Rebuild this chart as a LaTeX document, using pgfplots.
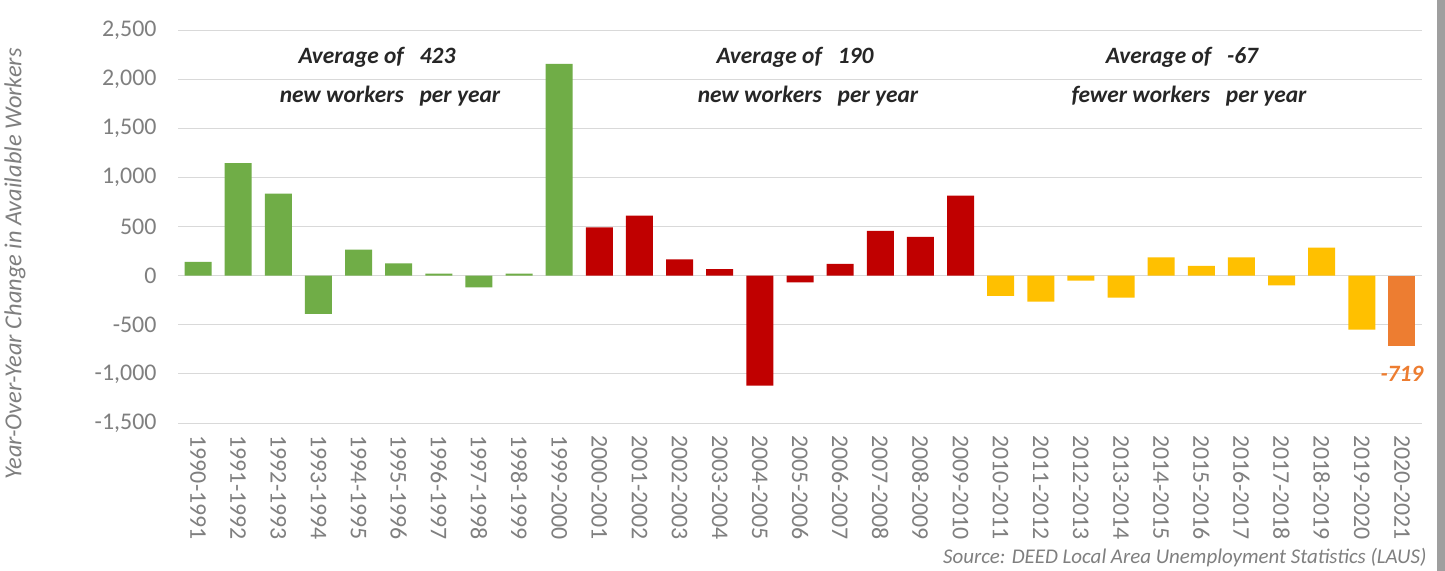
\documentclass[border=0pt]{standalone}
\usepackage{pgfplots}
\pgfplotsset{compat=1.18}
\usepackage{fontspec}
\setmainfont{Carlito}
\definecolor{cgreen}{HTML}{70AD47}
\definecolor{cred}{HTML}{C00000}
\definecolor{cyellow}{HTML}{FFC000}
\definecolor{corange}{HTML}{ED7D31}
\definecolor{tgray}{HTML}{7F7F7F}
\definecolor{ggray}{HTML}{D9D9D9}
\begin{document}
\begin{tikzpicture}[x=1bp,y=1bp]
\useasboundingbox (0,0) rectangle (1445,571);
\fill[white] (0,0) rectangle (1445,571);
\fill[gray!75] (1437,0) rectangle (1445,571);
\begin{axis}[
  at={(178bp,148bp)}, anchor=south west,
  scale only axis, width=1244bp, height=393bp,
  xmin=-0.5, xmax=30.5, ymin=-1500, ymax=2500,
  ytick={-1500,-1000,...,2500},
  ymajorgrids, major grid style={ggray, line width=0.8pt},
  axis line style={draw=none},
  major tick length=0pt,
  xtick={0,...,30},
  xticklabels={1990-1991,1991-1992,1992-1993,1993-1994,1994-1995,1995-1996,1996-1997,1997-1998,1998-1999,1999-2000,2000-2001,2001-2002,2002-2003,2003-2004,2004-2005,2005-2006,2006-2007,2007-2008,2008-2009,2009-2010,2010-2011,2011-2012,2012-2013,2013-2014,2014-2015,2015-2016,2016-2017,2017-2018,2018-2019,2019-2020,2020-2021},
  xticklabel shift=9bp,
  yticklabel shift=18bp,
  xticklabel style={rotate=-90, anchor=west, font=\fontsize{24}{28}\selectfont, text=tgray},
  yticklabel style={font=\fontsize{24}{28}\selectfont, text=tgray},
  /pgf/number format/assume math mode=true,
  /pgf/number format/.cd, 1000 sep={,},
  /pgfplots/.cd,
  ybar, bar width=27bp, bar shift=0pt,
  every axis plot/.append style={draw=none},
  clip=false,
]
\addplot[fill=cgreen] coordinates {(0,140) (1,1145) (2,835) (3,-390) (4,265) (5,125) (6,20) (7,-120) (8,20) (9,2155)};
\addplot[fill=cred] coordinates {(10,490) (11,610) (12,165) (13,65) (14,-1120) (15,-70) (16,120) (17,455) (18,395) (19,815)};
\addplot[fill=cyellow] coordinates {(20,-205) (21,-265) (22,-50) (23,-225) (24,185) (25,100) (26,185) (27,-100) (28,285) (29,-550)};
\addplot[fill=corange] coordinates {(30,-719)};
\node[text=corange, font=\fontsize{23.5}{26}\selectfont\bfseries\itshape] at (axis cs:30,-1000) {-719};
\end{axis}
\begin{scope}[every node/.style={font=\fontsize{23.5}{26}\selectfont\bfseries\itshape, text=black!85}]
\node at (377,514) {Average of \ \ 423};
\node at (390,475) {new workers \ \ per year};
\node at (795,514) {Average of \ \ 190};
\node at (808,475) {new workers \ \ per year};
\node at (1182,514) {Average of \ \ -67};
\node at (1189,475) {fewer workers \ \ per year};
\end{scope}
\node[rotate=90, text=tgray, font=\fontsize{24.5}{28}\selectfont\itshape] at (15,307) {Year-Over-Year Change in Available Workers};
\node[anchor=east, text=tgray, font=\fontsize{21}{24}\selectfont\itshape] at (1430,13) {Source: DEED Local Area Unemployment Statistics (LAUS)};
\end{tikzpicture}
\end{document}
